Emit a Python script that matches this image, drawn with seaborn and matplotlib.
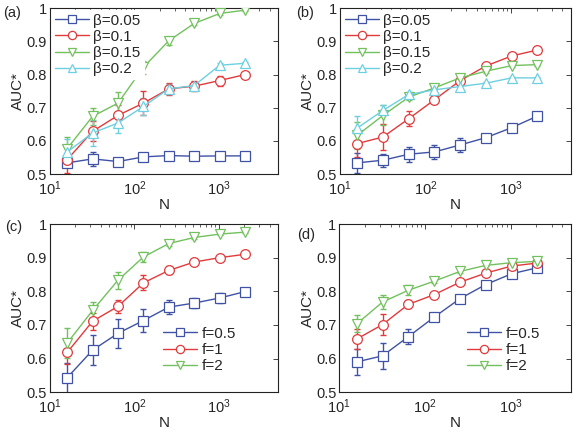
import numpy as np
import seaborn as sns
import matplotlib.pyplot as plt
from matplotlib.ticker import LogLocator, NullFormatter

N = [16, 32, 64, 128, 256, 512, 1024, 2048]

betas = ['β=0.05', 'β=0.1', 'β=0.15', 'β=0.2']
fs = ['f=0.5', 'f=1', 'f=2']

# panel (a)
a_vals = [
    [0.534, 0.546, 0.538, 0.552, 0.556, 0.554, 0.555, 0.555],
    [0.544, 0.629, 0.677, 0.714, 0.757, 0.765, 0.782, 0.800],
    [0.577, 0.674, 0.714, 0.822, 0.902, 0.954, 0.984, 0.994],
    [0.567, 0.624, 0.654, 0.704, 0.757, 0.767, 0.828, 0.834],
]
a_err = [
    [0.008, 0.020, 0.010, 0.012, 0.004, 0.004, 0.004, 0.004],
    [0.040, 0.030, 0.030, 0.035, 0.018, 0.015, 0.015, 0.006],
    [0.035, 0.025, 0.033, 0.020, 0.012, 0.006, 0.005, 0.003],
    [0.040, 0.040, 0.030, 0.025, 0.015, 0.012, 0.006, 0.004],
]
# panel (b)
b_vals = [
    [0.534, 0.542, 0.560, 0.567, 0.588, 0.610, 0.640, 0.675],
    [0.592, 0.612, 0.667, 0.724, 0.782, 0.826, 0.856, 0.874],
    [0.617, 0.677, 0.732, 0.760, 0.790, 0.810, 0.827, 0.830],
    [0.639, 0.692, 0.740, 0.754, 0.764, 0.774, 0.790, 0.790],
]
b_err = [
    [0.030, 0.020, 0.023, 0.022, 0.022, 0.010, 0.012, 0.005],
    [0.040, 0.040, 0.023, 0.010, 0.008, 0.006, 0.005, 0.004],
    [0.040, 0.030, 0.008, 0.006, 0.005, 0.004, 0.004, 0.003],
    [0.035, 0.015, 0.008, 0.006, 0.005, 0.004, 0.004, 0.003],
]
# panel (c)
c_vals = [
    [0.543, 0.625, 0.675, 0.713, 0.753, 0.765, 0.780, 0.799],
    [0.618, 0.711, 0.755, 0.825, 0.862, 0.887, 0.900, 0.910],
    [0.646, 0.743, 0.833, 0.902, 0.942, 0.960, 0.970, 0.976],
]
c_err = [
    [0.045, 0.045, 0.043, 0.035, 0.020, 0.015, 0.016, 0.006],
    [0.035, 0.025, 0.020, 0.022, 0.012, 0.006, 0.005, 0.004],
    [0.045, 0.025, 0.025, 0.015, 0.006, 0.005, 0.004, 0.003],
]
# panel (d)
d_vals = [
    [0.590, 0.608, 0.665, 0.723, 0.778, 0.820, 0.852, 0.870],
    [0.658, 0.701, 0.761, 0.790, 0.827, 0.854, 0.875, 0.884],
    [0.703, 0.768, 0.803, 0.830, 0.859, 0.877, 0.885, 0.889],
]
d_err = [
    [0.038, 0.038, 0.022, 0.008, 0.008, 0.005, 0.005, 0.004],
    [0.030, 0.030, 0.012, 0.005, 0.004, 0.004, 0.003, 0.003],
    [0.025, 0.022, 0.015, 0.006, 0.004, 0.003, 0.003, 0.003],
]

colors = ['#3f52a4', '#e23a3c', '#72c15e', '#6dcfe0']
markers = ['s', 'o', 'v', '^']

sns.set_style('white')
plt.rcParams['font.family'] = ['Liberation Sans', 'DejaVu Sans']
plt.rcParams['mathtext.fontset'] = 'custom'
plt.rcParams['mathtext.rm'] = 'Liberation Sans'
plt.rcParams['mathtext.it'] = 'Liberation Sans:italic'
plt.rcParams['xtick.direction'] = 'in'
plt.rcParams['ytick.direction'] = 'in'

fig = plt.figure(figsize=(5.74, 4.30), dpi=100)
positions = {
    'a': [0.087, 0.595, 0.397, 0.386],
    'b': [0.592, 0.595, 0.402, 0.386],
    'c': [0.087, 0.088, 0.397, 0.391],
    'd': [0.591, 0.088, 0.403, 0.391],
}
label_pos = {'a': (3, 13), 'b': (296, 13), 'c': (5, 227), 'd': (297, 235)}
legend_anchor = {'a': (0.0, 1.0), 'b': (0.0, 1.0), 'c': (0.84, 0.08), 'd': (0.89, 0.08)}

panels = [
    ('a', betas, a_vals, a_err, 'upper left'),
    ('b', betas, b_vals, b_err, 'upper left'),
    ('c', fs, c_vals, c_err, 'lower right'),
    ('d', fs, d_vals, d_err, 'lower right'),
]

for key, names, vals, errs, loc in panels:
    ax = fig.add_axes(positions[key])
    for i, name in enumerate(names):
        ax.errorbar(N, vals[i], yerr=errs[i], fmt='none', ecolor=colors[i],
                    elinewidth=1.0, capsize=2.5, capthick=1.0, zorder=2)
        sns.lineplot(x=N, y=vals[i], ax=ax, color=colors[i], marker=markers[i],
                     markersize=7, mfc='white', mec=colors[i], mew=0.9,
                     linewidth=1.0, label=name, zorder=3)
    ax.set_xscale('log')
    ax.set_xlim(10, 5000)
    ax.set_ylim(0.5, 1.0)
    ax.set_yticks([0.5, 0.6, 0.7, 0.8, 0.9, 1.0])
    ax.set_yticklabels(['0.5', '0.6', '0.7', '0.8', '0.9', '1'])
    ax.xaxis.set_minor_locator(LogLocator(base=10, subs=np.arange(2, 10)))
    ax.xaxis.set_minor_formatter(NullFormatter())
    ax.tick_params(which='both', top=True, right=True, labelsize=10.5)
    ax.tick_params(axis='x', pad=4)
    ax.tick_params(axis='y', pad=2)
    ax.tick_params(which='major', length=3.5, width=0.6)
    ax.tick_params(which='minor', length=2, width=0.5)
    for s in ax.spines.values():
        s.set_linewidth(0.8)
        s.set_color('#222222')
    ax.set_xlabel('N', fontsize=11, labelpad=0)
    ax.set_ylabel('AUC*', fontsize=11, labelpad=1)
    handles, labels = ax.get_legend_handles_labels()
    leg = ax.legend(handles, labels, loc=loc, bbox_to_anchor=legend_anchor[key],
                    frameon=True, fontsize=11,
                    handlelength=2.2, handletextpad=0.3, labelspacing=0.15,
                    borderaxespad=0.15, borderpad=0.2, fancybox=False,
                    markerscale=0.85)
    leg.get_frame().set_edgecolor('white')
    leg.get_frame().set_facecolor('white')
    leg.get_frame().set_alpha(1.0)
    leg.set_zorder(5)
    lx, ly = label_pos[key]
    fig.text(lx / 574, 1 - ly / 430, '(' + key + ')', fontsize=10.5,
             ha='left', va='center')

fig.savefig('out.png', dpi=100)
